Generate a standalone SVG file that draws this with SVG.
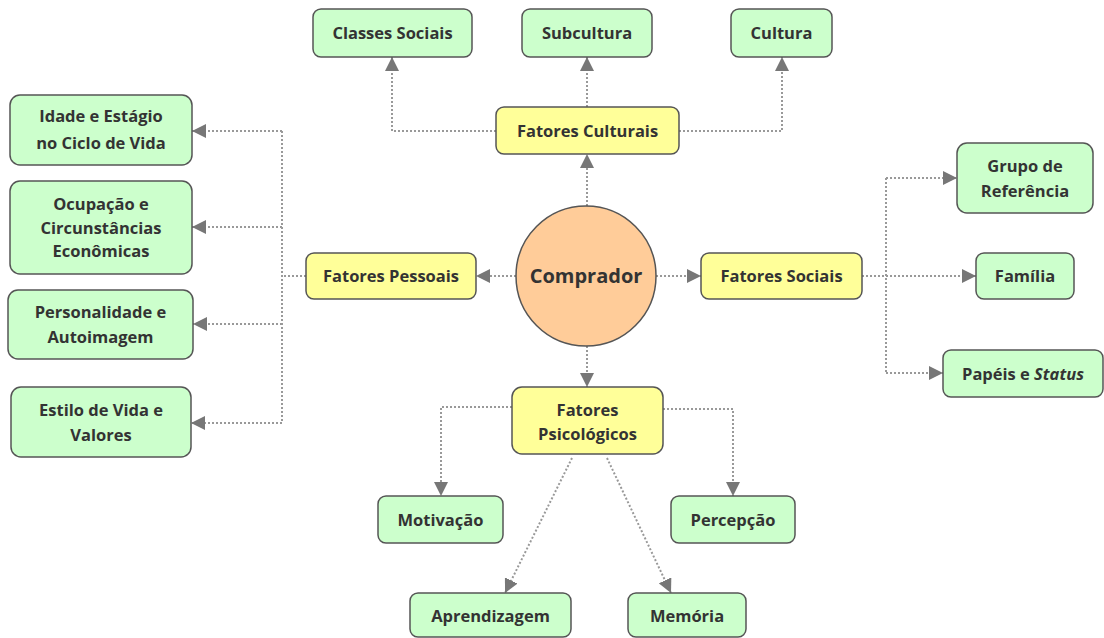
<svg xmlns="http://www.w3.org/2000/svg" width="1104" height="638" viewBox="0 0 1104 638">
<style>
  .g rect{fill:#ccffcc;stroke:#555;stroke-width:1.5}
  .y rect{fill:#ffff99;stroke:#555;stroke-width:1.5}
  text{font-family:"Open Sans","Noto Sans","Liberation Sans",sans-serif;font-weight:bold;font-size:16.5px;fill:#333;text-anchor:middle}
  .c{fill:none;stroke:#999;stroke-width:2;stroke-dasharray:2 2}
</style>
<defs>
  <marker id="ah" markerUnits="userSpaceOnUse" markerWidth="14" markerHeight="14" viewBox="0 0 10 10" refX="10" refY="5" orient="auto">
    <path d="M0,0 L10,5 L0,10 z" fill="#777"/>
  </marker>
</defs>
<rect width="1104" height="638" fill="#fff"/>
<g id="connectors">
  <path class="c" d="M496,131 H392 V57" marker-end="url(#ah)"/>
  <path class="c" d="M587,107 V57" marker-end="url(#ah)"/>
  <path class="c" d="M679,131 H782 V57" marker-end="url(#ah)"/>
  <path class="c" d="M587,206 V154" marker-end="url(#ah)"/>
  <path class="c" d="M516,276 H476" marker-end="url(#ah)"/>
  <path class="c" d="M656,276 H701" marker-end="url(#ah)"/>
  <path class="c" d="M587,346 V387" marker-end="url(#ah)"/>
  <path class="c" d="M306,276 H282"/>
  <path class="c" d="M282,131 V423"/>
  <path class="c" d="M282,131 H192" marker-end="url(#ah)"/>
  <path class="c" d="M282,227 H192" marker-end="url(#ah)"/>
  <path class="c" d="M282,324 H193" marker-end="url(#ah)"/>
  <path class="c" d="M282,423 H191" marker-end="url(#ah)"/>
  <path class="c" d="M862,276 H976" marker-end="url(#ah)"/>
  <path class="c" d="M886,178 V373"/>
  <path class="c" d="M886,178 H957" marker-end="url(#ah)"/>
  <path class="c" d="M886,373 H943" marker-end="url(#ah)"/>
  <path class="c" d="M512,407 H441 V496" marker-end="url(#ah)"/>
  <path class="c" d="M663,409 H733 V496" marker-end="url(#ah)"/>
  <path class="c" d="M572,458 L505,593" marker-end="url(#ah)"/>
  <path class="c" d="M607,458 L671,593" marker-end="url(#ah)"/>
</g>
<g id="classes-sociais" class="g"><rect x="313" y="9" width="159" height="48" rx="8"/><text x="392.5" y="39">Classes Sociais</text></g>
<g id="subcultura" class="g"><rect x="522" y="9" width="130" height="48" rx="8"/><text x="587" y="39">Subcultura</text></g>
<g id="cultura" class="g"><rect x="731" y="9" width="101" height="48" rx="8"/><text x="781.5" y="39">Cultura</text></g>
<g id="fatores-culturais" class="y"><rect x="496" y="107" width="183" height="47" rx="8"/><text x="587.5" y="137">Fatores Culturais</text></g>
<g id="comprador"><circle cx="586" cy="276" r="70" fill="#ffcc99" stroke="#555" stroke-width="1.5"/><text x="586" y="283" style="font-size:20px">Comprador</text></g>
<g id="fatores-pessoais" class="y"><rect x="306" y="253" width="170" height="46" rx="8"/><text x="391" y="282">Fatores Pessoais</text></g>
<g id="fatores-sociais" class="y"><rect x="701" y="253" width="161" height="46" rx="8"/><text x="781.5" y="282">Fatores Sociais</text></g>
<g id="fatores-psicologicos" class="y"><rect x="512" y="387" width="151" height="67" rx="10"/><text x="587.5" y="416">Fatores</text><text x="587.5" y="440">Psicológicos</text></g>
<g id="idade" class="g"><rect x="10" y="95" width="182" height="70" rx="10"/><text x="101" y="122">Idade e Estágio</text><text x="101" y="149">no Ciclo de Vida</text></g>
<g id="ocupacao" class="g"><rect x="10" y="181" width="182" height="93" rx="10"/><text x="101" y="210">Ocupação e</text><text x="101" y="234">Circunstâncias</text><text x="101" y="257">Econômicas</text></g>
<g id="personalidade" class="g"><rect x="8" y="290" width="185" height="69" rx="10"/><text x="100.5" y="318">Personalidade e</text><text x="100.5" y="343">Autoimagem</text></g>
<g id="estilo" class="g"><rect x="11" y="387" width="180" height="70" rx="10"/><text x="101" y="416">Estilo de Vida e</text><text x="101" y="441">Valores</text></g>
<g id="grupo" class="g"><rect x="957" y="143" width="136" height="70" rx="10"/><text x="1025" y="172">Grupo de</text><text x="1025" y="197">Referência</text></g>
<g id="familia" class="g"><rect x="976" y="253" width="98" height="46" rx="8"/><text x="1025" y="282">Família</text></g>
<g id="papeis" class="g"><rect x="943" y="350" width="160" height="47" rx="8"/><text x="1023" y="380">Papéis e <tspan font-style="italic">Status</tspan></text></g>
<g id="motivacao" class="g"><rect x="378" y="496" width="125" height="47" rx="8"/><text x="440.5" y="526">Motivação</text></g>
<g id="percepcao" class="g"><rect x="671" y="496" width="124" height="47" rx="8"/><text x="733" y="526">Percepção</text></g>
<g id="aprendizagem" class="g"><rect x="410" y="593" width="161" height="44" rx="8"/><text x="490.5" y="622">Aprendizagem</text></g>
<g id="memoria" class="g"><rect x="628" y="593" width="118" height="44" rx="8"/><text x="687" y="622">Memória</text></g>
</svg>
